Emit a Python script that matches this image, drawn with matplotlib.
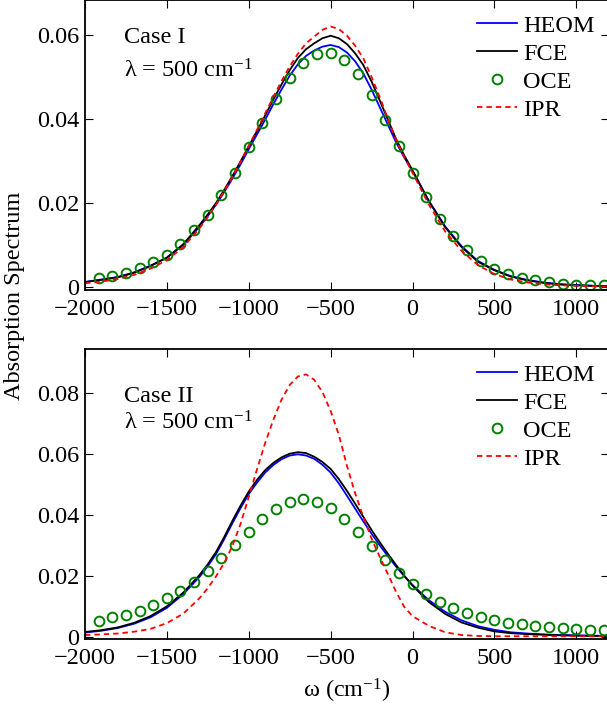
import numpy as np
import matplotlib
matplotlib.use('Agg')
import matplotlib.pyplot as plt

plt.rcParams['font.family'] = ['Liberation Serif', 'DejaVu Serif']
plt.rcParams['mathtext.fontset'] = 'custom'
plt.rcParams['mathtext.rm'] = 'Liberation Serif'
plt.rcParams['mathtext.it'] = 'Liberation Serif:italic'
plt.rcParams['mathtext.default'] = 'regular'

# frequency grid for the continuous curves (cm^-1), finer around the peaks
w = [-2000, -1900, -1800, -1700, -1600, -1500, -1400, -1300,
     -1250, -1200, -1150, -1100, -1050, -1000, -950, -900, -850, -800, -750, -700, -650,
     -600, -550, -500, -450, -400, -350, -300, -250, -200, -150, -100, -50, 0,
     100, 200, 300, 400, 500, 600, 700, 800, 900, 1000, 1100, 1200]

# Case I
heom1 = [0.0012, 0.0018, 0.0024, 0.0035, 0.0051, 0.0070, 0.0100, 0.0144,
         0.0169, 0.0196, 0.0226, 0.0258, 0.0292, 0.0328, 0.0363, 0.0398, 0.0435, 0.0470, 0.0503, 0.0530, 0.0550,
         0.0563, 0.0572, 0.0576, 0.0571, 0.0558, 0.0537, 0.0508, 0.0470, 0.0428, 0.0386, 0.0344, 0.0308, 0.0276,
         0.0205, 0.0144, 0.0097, 0.0062, 0.0041, 0.0026, 0.0017, 0.0011, 0.0007, 0.0005, 0.0003, 0.0002]
fce1 = [0.0012, 0.0017, 0.0023, 0.0034, 0.0050, 0.0070, 0.0102, 0.0148,
        0.0173, 0.0200, 0.0231, 0.0264, 0.0299, 0.0335, 0.0371, 0.0408, 0.0446, 0.0482, 0.0516, 0.0545, 0.0566,
        0.0580, 0.0592, 0.0598, 0.0592, 0.0578, 0.0556, 0.0528, 0.0489, 0.0444, 0.0398, 0.0352, 0.0313, 0.0278,
        0.0204, 0.0142, 0.0095, 0.0060, 0.0040, 0.0025, 0.0016, 0.0010, 0.0006, 0.0004, 0.0003, 0.0002]
ipr1 = [0.0009, 0.0013, 0.0019, 0.0029, 0.0044, 0.0064, 0.0095, 0.0140,
        0.0167, 0.0196, 0.0228, 0.0262, 0.0298, 0.0336, 0.0374, 0.0413, 0.0452, 0.0490, 0.0525, 0.0555, 0.0580,
        0.0596, 0.0612, 0.0620, 0.0614, 0.0598, 0.0574, 0.0544, 0.0500, 0.0452, 0.0400, 0.0350, 0.0309, 0.0272,
        0.0196, 0.0132, 0.0086, 0.0052, 0.0031, 0.0018, 0.0011, 0.0007, 0.0004, 0.0003, 0.0002, 0.0001]

# Case II
heom2 = [0.0014, 0.0020, 0.0029, 0.0043, 0.0064, 0.0095, 0.0140, 0.0197,
         0.0232, 0.0271, 0.0320, 0.0372, 0.0422, 0.0468, 0.0505, 0.0538, 0.0563, 0.0582, 0.0594, 0.0598, 0.0594,
         0.0583, 0.0564, 0.0538, 0.0503, 0.0462, 0.0420, 0.0378, 0.0338, 0.0300, 0.0264, 0.0230, 0.0199, 0.0170,
         0.0120, 0.0082, 0.0054, 0.0035, 0.0023, 0.0015, 0.0011, 0.0008, 0.0006, 0.0005, 0.0004, 0.0003]
fce2 = [0.0016, 0.0022, 0.0031, 0.0046, 0.0068, 0.0100, 0.0145, 0.0203,
        0.0238, 0.0278, 0.0327, 0.0380, 0.0430, 0.0476, 0.0514, 0.0546, 0.0570, 0.0588, 0.0600, 0.0605, 0.0602,
        0.0590, 0.0573, 0.0550, 0.0517, 0.0478, 0.0436, 0.0393, 0.0350, 0.0310, 0.0272, 0.0235, 0.0200, 0.0168,
        0.0114, 0.0075, 0.0047, 0.0030, 0.0018, 0.0012, 0.0009, 0.0007, 0.0005, 0.0004, 0.0003, 0.0003]
ipr2 = [0.0006, 0.0008, 0.0011, 0.0017, 0.0026, 0.0045, 0.0076, 0.0127,
        0.0160, 0.0198, 0.0242, 0.0298, 0.0370, 0.0458, 0.0548, 0.0635, 0.0711, 0.0777, 0.0825, 0.0853, 0.0860,
        0.0842, 0.0802, 0.0740, 0.0662, 0.0560, 0.0470, 0.0392, 0.0322, 0.0262, 0.0205, 0.0147, 0.0098, 0.0068,
        0.0036, 0.0015, 0.0006, 0.0003, 0.0002, 0.0002, 0.0002, 0.0002, 0.0002, 0.0002, 0.0002, 0.0002]

# OCE points
w_oce = [-1917, -1833, -1750, -1667, -1583, -1500, -1417, -1333, -1250, -1167, -1083, -1000,
         -917, -833, -750, -667, -583, -500, -417, -333, -250, -167, -83, 0,
         83, 167, 250, 333, 417, 500, 583, 667, 750, 833, 917, 1000, 1083, 1167]
oce1 = [0.0021, 0.0026, 0.0033, 0.0045, 0.0059, 0.0077, 0.0102, 0.0135, 0.0171, 0.0220, 0.0272, 0.0333,
        0.0390, 0.0448, 0.0498, 0.0534, 0.0554, 0.0558, 0.0541, 0.0506, 0.0456, 0.0398, 0.0336, 0.0272,
        0.0214, 0.0163, 0.0121, 0.0087, 0.0062, 0.0044, 0.0030, 0.0022, 0.0016, 0.0011, 0.0008, 0.0006,
        0.0006, 0.0005]
oce2 = [0.0052, 0.0064, 0.0073, 0.0085, 0.0104, 0.0126, 0.0150, 0.0180, 0.0215, 0.0257, 0.0301, 0.0344,
        0.0386, 0.0419, 0.0443, 0.0450, 0.0443, 0.0421, 0.0386, 0.0344, 0.0297, 0.0251, 0.0208, 0.0172,
        0.0139, 0.0113, 0.0095, 0.0077, 0.0066, 0.0055, 0.0047, 0.0042, 0.0036, 0.0033, 0.0030, 0.0025,
        0.0024, 0.0022]

xticks = [-2000, -1500, -1000, -500, 0, 500, 1000]
xticklabels = ['\u22122000', '\u22121500', '\u22121000', '\u2212500', '0', '500', '1000']
yticks1 = [0, 0.02, 0.04, 0.06]
yticklabels1 = ['0', '0.02', '0.04', '0.06']
yticks2 = [0, 0.02, 0.04, 0.06, 0.08]
yticklabels2 = ['0', '0.02', '0.04', '0.06', '0.08']

fs = 17.5
fig = plt.figure(figsize=(6.07, 7.04), dpi=100)
ax1 = fig.add_axes([85/607, 414/704, 524/607, 290/704])
ax2 = fig.add_axes([85/607, 65/704, 524/607, 290/704])

panels = [(ax1, heom1, fce1, oce1, ipr1, yticks1, yticklabels1, (-0.0007, 0.0683), 'Case I', 0.851, 0.733),
          (ax2, heom2, fce2, oce2, ipr2, yticks2, yticklabels2, (-0.0007, 0.0943), 'Case II', 0.818, 0.721)]

for ax, heom, fce, oce, ipr, yt, ytl, yl, case, yc, ylam in panels:
    ax.plot(w, heom, color='#0000ff', lw=1.3, label='HEOM')
    ax.plot(w, fce, color='black', lw=1.3, label='FCE')
    ax.plot(w_oce, oce, 'o', mfc='none', mec='#008000', ms=7, mew=1.4, label='OCE')
    ax.plot(w, ipr, color='#ff0000', lw=1.3, dashes=(3.0, 2.2), label='IPR')
    ax.set_xlim(-2000, 1200)
    ax.set_ylim(*yl)
    ax.set_xticks(xticks)
    ax.set_xticklabels(xticklabels, fontsize=fs)
    ax.set_yticks(yt)
    ax.set_yticklabels(ytl, fontsize=fs)
    ax.tick_params(direction='in', top=True, right=True, length=6, width=0.8, pad=4)
    ax.tick_params(axis='x', pad=6.5)
    for s in ax.spines.values():
        s.set_linewidth(1.3)
    ax.text(0.075, yc, case, transform=ax.transAxes, fontsize=fs, va='baseline')
    ax.text(0.075, ylam, '\u03bb = 500 cm$^{-1}$', transform=ax.transAxes, fontsize=fs, va='baseline')
    ax.legend(loc='upper right', bbox_to_anchor=(1.0, 1.0), frameon=False, fontsize=fs,
              handlelength=1.65, handletextpad=0.25, labelspacing=0.25, borderaxespad=0.4,
              borderpad=0.2, numpoints=1)

ax2.set_xlabel('\u03c9 (cm$^{-1}$)', fontsize=fs, labelpad=5.5)
fig.text(15/607, 1 - 296/704, 'Absorption Spectrum', rotation=90, fontsize=fs,
         ha='center', va='center')

fig.savefig('out.png', dpi=100)
